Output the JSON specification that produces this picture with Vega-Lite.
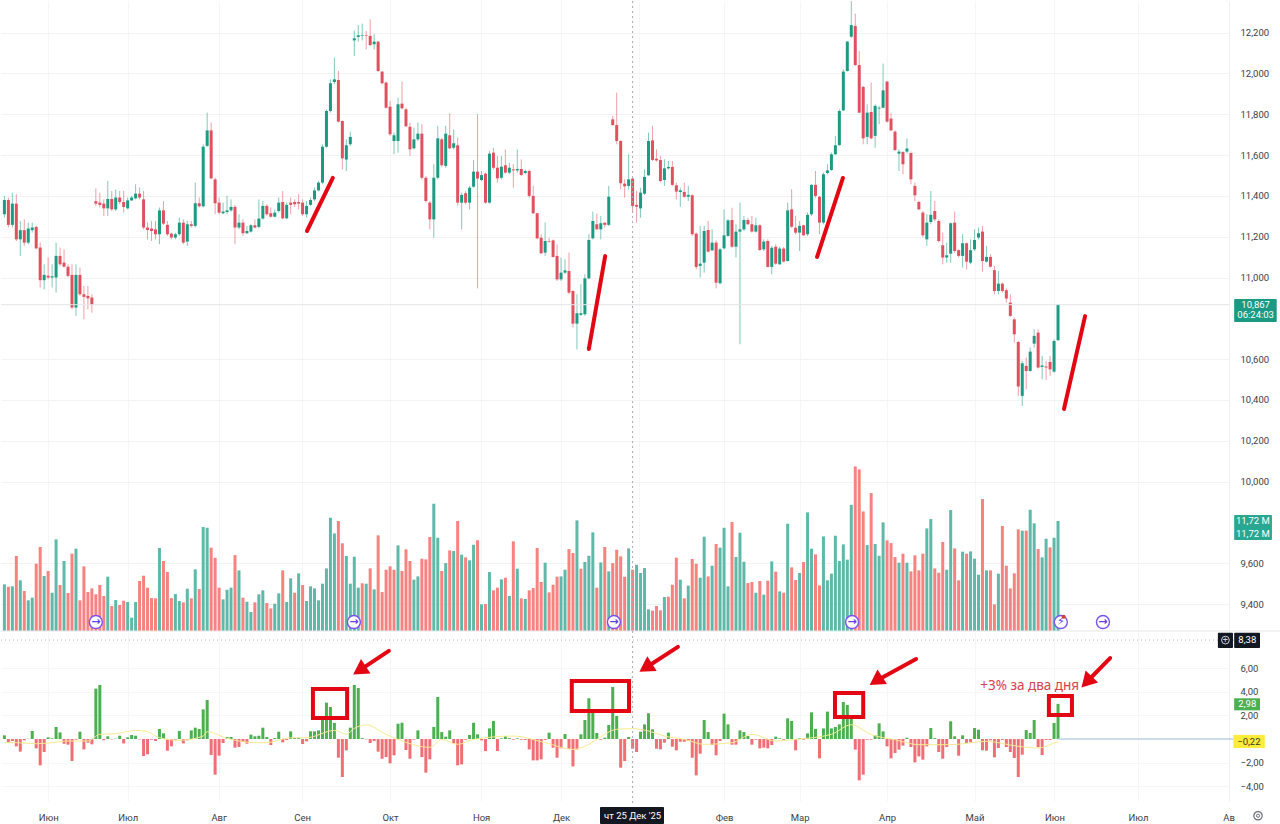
{
  "$schema": "https://vega.github.io/schema/vega-lite/v6.json",
  "background": "#ffffff",
  "padding": 0,
  "autosize": {"type": "pad"},
  "bounds": "flush",
  "spacing": 0,
  "config": {
    "view": {"stroke": null},
    "font": "Roboto"
  },
  "datasets": {
    "bars": [
      {"i":0,"o":11310,"h":11400,"l":11294,"c":11380,"v":4.97,"up":1,"d":0.31},
      {"i":1,"o":11380,"h":11392,"l":11245,"c":11258,"v":4.72,"up":0,"d":-0.31},
      {"i":2,"o":11258,"h":11416,"l":11245,"c":11362,"v":4.76,"up":1,"d":-0.17},
      {"i":3,"o":11362,"h":11408,"l":11179,"c":11187,"v":7.99,"up":0,"d":-0.62},
      {"i":4,"o":11187,"h":11277,"l":11106,"c":11232,"v":5.40,"up":1,"d":-1.07},
      {"i":5,"o":11232,"h":11285,"l":11155,"c":11171,"v":4.26,"up":0,"d":-0.11},
      {"i":6,"o":11171,"h":11269,"l":11163,"c":11240,"v":3.27,"up":1,"d":0.02},
      {"i":7,"o":11232,"h":11269,"l":11220,"c":11245,"v":3.55,"up":1,"d":0.68},
      {"i":8,"o":11248,"h":11253,"l":11138,"c":11143,"v":7.17,"up":0,"d":-0.79},
      {"i":9,"o":11147,"h":11171,"l":10951,"c":10987,"v":8.95,"up":0,"d":-2.23},
      {"i":10,"o":10987,"h":11065,"l":10942,"c":11013,"v":5.86,"up":1,"d":-1.10},
      {"i":11,"o":11009,"h":11098,"l":10991,"c":11000,"v":6.39,"up":0,"d":0.14},
      {"i":12,"o":11000,"h":11065,"l":10951,"c":11006,"v":4.08,"up":1,"d":0.06},
      {"i":13,"o":11000,"h":11171,"l":10926,"c":11106,"v":9.76,"up":1,"d":1.02},
      {"i":14,"o":11106,"h":11147,"l":11057,"c":11065,"v":4.90,"up":0,"d":0.56},
      {"i":15,"o":11073,"h":11138,"l":11049,"c":11053,"v":7.46,"up":1,"d":-0.40},
      {"i":16,"o":11053,"h":11065,"l":11000,"c":11008,"v":4.05,"up":0,"d":-0.48},
      {"i":17,"o":11013,"h":11065,"l":10844,"c":10853,"v":8.24,"up":0,"d":-1.86},
      {"i":18,"o":10853,"h":11065,"l":10812,"c":11013,"v":8.77,"up":1,"d":-0.06},
      {"i":19,"o":11013,"h":11049,"l":10910,"c":10918,"v":3.27,"up":0,"d":0.62},
      {"i":20,"o":10918,"h":10959,"l":10795,"c":10905,"v":6.89,"up":0,"d":-0.88},
      {"i":21,"o":10910,"h":10959,"l":10844,"c":10898,"v":4.15,"up":0,"d":-0.31},
      {"i":22,"o":10902,"h":10918,"l":10828,"c":10866,"v":4.54,"up":0,"d":-0.45},
      {"i":23,"o":11374,"h":11437,"l":11351,"c":11362,"v":3.91,"up":0,"d":4.27},
      {"i":24,"o":11367,"h":11416,"l":11343,"c":11356,"v":4.90,"up":0,"d":4.58},
      {"i":25,"o":11362,"h":11383,"l":11302,"c":11339,"v":3.73,"up":0,"d":-0.11},
      {"i":26,"o":11339,"h":11473,"l":11302,"c":11385,"v":5.79,"up":1,"d":0.23},
      {"i":27,"o":11385,"h":11424,"l":11326,"c":11334,"v":2.66,"up":0,"d":-0.03},
      {"i":28,"o":11334,"h":11432,"l":11326,"c":11392,"v":3.30,"up":1,"d":0.03},
      {"i":29,"o":11392,"h":11424,"l":11359,"c":11370,"v":2.77,"up":0,"d":0.28},
      {"i":30,"o":11370,"h":11424,"l":11318,"c":11346,"v":3.23,"up":0,"d":-0.37},
      {"i":31,"o":11339,"h":11392,"l":11334,"c":11378,"v":3.09,"up":1,"d":0.14},
      {"i":32,"o":11378,"h":11400,"l":11375,"c":11392,"v":1.42,"up":1,"d":0.34},
      {"i":33,"o":11388,"h":11457,"l":11383,"c":11411,"v":3.09,"up":1,"d":0.28},
      {"i":34,"o":11411,"h":11441,"l":11383,"c":11392,"v":5.33,"up":0,"d":-0.03},
      {"i":35,"o":11383,"h":11424,"l":11236,"c":11245,"v":5.89,"up":0,"d":-1.44},
      {"i":36,"o":11245,"h":11269,"l":11187,"c":11233,"v":4.62,"up":0,"d":-1.30},
      {"i":37,"o":11240,"h":11277,"l":11179,"c":11228,"v":3.51,"up":0,"d":-0.06},
      {"i":38,"o":11236,"h":11277,"l":11187,"c":11212,"v":3.48,"up":0,"d":-0.17},
      {"i":39,"o":11212,"h":11343,"l":11163,"c":11329,"v":8.84,"up":1,"d":0.85},
      {"i":40,"o":11329,"h":11375,"l":11258,"c":11264,"v":7.46,"up":0,"d":0.48},
      {"i":41,"o":11258,"h":11277,"l":11204,"c":11212,"v":6.28,"up":0,"d":-0.99},
      {"i":42,"o":11215,"h":11220,"l":11187,"c":11196,"v":3.51,"up":0,"d":-0.62},
      {"i":43,"o":11196,"h":11220,"l":11187,"c":11212,"v":3.94,"up":1,"d":-0.06},
      {"i":44,"o":11212,"h":11294,"l":11204,"c":11269,"v":3.20,"up":1,"d":0.68},
      {"i":45,"o":11269,"h":11285,"l":11163,"c":11171,"v":3.05,"up":0,"d":-0.37},
      {"i":46,"o":11176,"h":11277,"l":11155,"c":11261,"v":4.51,"up":1,"d":-0.11},
      {"i":47,"o":11261,"h":11277,"l":11245,"c":11253,"v":3.48,"up":0,"d":0.73},
      {"i":48,"o":11253,"h":11465,"l":11245,"c":11364,"v":6.57,"up":1,"d":0.96},
      {"i":49,"o":11364,"h":11392,"l":11343,"c":11349,"v":4.47,"up":0,"d":0.85},
      {"i":50,"o":11349,"h":11653,"l":11343,"c":11641,"v":11.08,"up":1,"d":2.51},
      {"i":51,"o":11645,"h":11808,"l":11640,"c":11721,"v":11.00,"up":1,"d":3.31},
      {"i":52,"o":11721,"h":11759,"l":11481,"c":11486,"v":8.88,"up":0,"d":-1.36},
      {"i":53,"o":11481,"h":11490,"l":11310,"c":11364,"v":7.81,"up":0,"d":-3.02},
      {"i":54,"o":11367,"h":11392,"l":11310,"c":11318,"v":4.62,"up":0,"d":-1.41},
      {"i":55,"o":11315,"h":11367,"l":11310,"c":11323,"v":3.37,"up":1,"d":-0.34},
      {"i":56,"o":11321,"h":11400,"l":11310,"c":11329,"v":4.40,"up":1,"d":0.17},
      {"i":57,"o":11329,"h":11383,"l":11323,"c":11346,"v":4.62,"up":1,"d":0.17},
      {"i":58,"o":11346,"h":11356,"l":11163,"c":11245,"v":8.09,"up":0,"d":-0.73},
      {"i":59,"o":11245,"h":11310,"l":11236,"c":11269,"v":6.46,"up":1,"d":-0.68},
      {"i":60,"o":11269,"h":11285,"l":11204,"c":11217,"v":3.55,"up":0,"d":-0.25},
      {"i":61,"o":11217,"h":11253,"l":11212,"c":11228,"v":3.12,"up":1,"d":-0.40},
      {"i":62,"o":11225,"h":11261,"l":11220,"c":11256,"v":2.02,"up":1,"d":0.37},
      {"i":63,"o":11256,"h":11285,"l":11241,"c":11245,"v":3.05,"up":0,"d":0.23},
      {"i":64,"o":11248,"h":11383,"l":11241,"c":11289,"v":3.91,"up":1,"d":0.28},
      {"i":65,"o":11289,"h":11375,"l":11284,"c":11351,"v":4.33,"up":1,"d":0.96},
      {"i":66,"o":11351,"h":11359,"l":11302,"c":11310,"v":2.98,"up":0,"d":0.17},
      {"i":67,"o":11315,"h":11343,"l":11294,"c":11298,"v":2.41,"up":0,"d":-0.51},
      {"i":68,"o":11298,"h":11334,"l":11294,"c":11318,"v":2.91,"up":1,"d":0.08},
      {"i":69,"o":11326,"h":11392,"l":11318,"c":11367,"v":4.01,"up":1,"d":0.62},
      {"i":70,"o":11370,"h":11424,"l":11285,"c":11290,"v":6.46,"up":0,"d":-0.28},
      {"i":71,"o":11290,"h":11367,"l":11285,"c":11356,"v":3.09,"up":1,"d":-0.08},
      {"i":72,"o":11367,"h":11392,"l":11310,"c":11356,"v":5.61,"up":1,"d":0.65},
      {"i":73,"o":11370,"h":11383,"l":11346,"c":11359,"v":4.08,"up":0,"d":0.08},
      {"i":74,"o":11370,"h":11408,"l":11334,"c":11362,"v":6.14,"up":1,"d":0.08},
      {"i":75,"o":11367,"h":11383,"l":11302,"c":11310,"v":4.90,"up":0,"d":-0.42},
      {"i":76,"o":11310,"h":11375,"l":11294,"c":11351,"v":3.20,"up":1,"d":-0.20},
      {"i":77,"o":11356,"h":11392,"l":11351,"c":11380,"v":4.76,"up":1,"d":0.65},
      {"i":78,"o":11383,"h":11441,"l":11375,"c":11427,"v":4.54,"up":1,"d":0.65},
      {"i":79,"o":11427,"h":11473,"l":11424,"c":11465,"v":3.27,"up":1,"d":0.73},
      {"i":80,"o":11465,"h":11653,"l":11457,"c":11641,"v":5.04,"up":1,"d":1.72},
      {"i":81,"o":11641,"h":11824,"l":11636,"c":11816,"v":6.67,"up":1,"d":3.08},
      {"i":82,"o":11816,"h":11971,"l":11808,"c":11952,"v":12.07,"up":1,"d":2.71},
      {"i":83,"o":11958,"h":12077,"l":11947,"c":11971,"v":10.40,"up":1,"d":1.36},
      {"i":84,"o":11968,"h":12012,"l":11759,"c":11764,"v":11.72,"up":0,"d":-1.58},
      {"i":85,"o":11767,"h":11770,"l":11530,"c":11584,"v":9.34,"up":0,"d":-3.22},
      {"i":86,"o":11578,"h":11677,"l":11522,"c":11648,"v":7.99,"up":1,"d":-0.96},
      {"i":87,"o":11653,"h":11715,"l":11645,"c":11689,"v":5.04,"up":1,"d":0.96},
      {"i":88,"o":12162,"h":12211,"l":12086,"c":12172,"v":7.92,"up":1,"d":4.58},
      {"i":89,"o":12179,"h":12237,"l":12156,"c":12187,"v":4.62,"up":1,"d":4.32},
      {"i":90,"o":12184,"h":12244,"l":12162,"c":12187,"v":5.08,"up":0,"d":0.08},
      {"i":91,"o":12187,"h":12208,"l":12118,"c":12184,"v":5.04,"up":1,"d":-0.03},
      {"i":92,"o":12184,"h":12265,"l":12135,"c":12139,"v":6.67,"up":0,"d":-0.34},
      {"i":93,"o":12143,"h":12192,"l":12118,"c":12156,"v":4.44,"up":1,"d":-0.17},
      {"i":94,"o":12156,"h":12159,"l":12007,"c":12012,"v":10.19,"up":0,"d":-1.07},
      {"i":95,"o":12009,"h":12012,"l":11947,"c":11952,"v":4.15,"up":0,"d":-1.67},
      {"i":96,"o":11955,"h":11960,"l":11828,"c":11832,"v":6.53,"up":0,"d":-1.53},
      {"i":97,"o":11837,"h":11865,"l":11694,"c":11702,"v":6.89,"up":0,"d":-2.06},
      {"i":98,"o":11669,"h":11710,"l":11604,"c":11697,"v":6.53,"up":0,"d":-1.38},
      {"i":99,"o":11669,"h":11881,"l":11612,"c":11849,"v":9.12,"up":1,"d":1.30},
      {"i":100,"o":11852,"h":11960,"l":11824,"c":11829,"v":6.39,"up":0,"d":1.38},
      {"i":101,"o":11824,"h":11832,"l":11738,"c":11741,"v":8.70,"up":0,"d":-0.93},
      {"i":102,"o":11739,"h":11759,"l":11596,"c":11628,"v":7.46,"up":0,"d":-1.67},
      {"i":103,"o":11633,"h":11734,"l":11628,"c":11677,"v":5.47,"up":1,"d":-0.06},
      {"i":104,"o":11677,"h":11759,"l":11669,"c":11705,"v":5.82,"up":1,"d":0.73},
      {"i":105,"o":11705,"h":11751,"l":11481,"c":11489,"v":7.70,"up":0,"d":-1.53},
      {"i":106,"o":11489,"h":11498,"l":11367,"c":11375,"v":7.63,"up":0,"d":-2.85},
      {"i":107,"o":11367,"h":11375,"l":11236,"c":11285,"v":10.01,"up":0,"d":-1.72},
      {"i":108,"o":11285,"h":11555,"l":11195,"c":11489,"v":13.56,"up":1,"d":1.02},
      {"i":109,"o":11489,"h":11743,"l":11481,"c":11682,"v":9.94,"up":1,"d":3.56},
      {"i":110,"o":11677,"h":11685,"l":11542,"c":11550,"v":6.39,"up":0,"d":0.59},
      {"i":111,"o":11547,"h":11743,"l":11538,"c":11705,"v":7.24,"up":1,"d":0.20},
      {"i":112,"o":11697,"h":11805,"l":11628,"c":11633,"v":8.59,"up":0,"d":0.73},
      {"i":113,"o":11636,"h":11726,"l":11628,"c":11658,"v":8.52,"up":1,"d":-0.37},
      {"i":114,"o":11648,"h":11685,"l":11351,"c":11367,"v":11.72,"up":0,"d":-2.23},
      {"i":115,"o":11367,"h":11416,"l":11236,"c":11405,"v":8.13,"up":1,"d":-2.15},
      {"i":116,"o":11413,"h":11424,"l":11359,"c":11367,"v":7.85,"up":0,"d":-0.06},
      {"i":117,"o":11367,"h":11449,"l":11334,"c":11440,"v":7.53,"up":1,"d":0.34},
      {"i":118,"o":11445,"h":11576,"l":11440,"c":11519,"v":9.19,"up":1,"d":1.38},
      {"i":119,"o":11519,"h":11800,"l":10947,"c":11485,"v":9.66,"up":0,"d":0.40},
      {"i":120,"o":11478,"h":11522,"l":11473,"c":11502,"v":2.84,"up":1,"d":-0.11},
      {"i":121,"o":11509,"h":11514,"l":11362,"c":11367,"v":2.88,"up":0,"d":-1.02},
      {"i":122,"o":11367,"h":11620,"l":11362,"c":11607,"v":6.28,"up":1,"d":0.90},
      {"i":123,"o":11612,"h":11636,"l":11530,"c":11538,"v":4.33,"up":0,"d":1.53},
      {"i":124,"o":11538,"h":11596,"l":11465,"c":11486,"v":4.62,"up":0,"d":-1.02},
      {"i":125,"o":11489,"h":11596,"l":11481,"c":11543,"v":5.50,"up":1,"d":0.06},
      {"i":126,"o":11550,"h":11628,"l":11509,"c":11514,"v":5.68,"up":0,"d":0.25},
      {"i":127,"o":11514,"h":11563,"l":11506,"c":11538,"v":3.73,"up":1,"d":0.08},
      {"i":128,"o":11530,"h":11555,"l":11440,"c":11525,"v":9.55,"up":0,"d":-0.06},
      {"i":129,"o":11525,"h":11628,"l":11514,"c":11532,"v":6.64,"up":1,"d":0.06},
      {"i":130,"o":11532,"h":11579,"l":11498,"c":11502,"v":3.48,"up":0,"d":-0.06},
      {"i":131,"o":11512,"h":11530,"l":11506,"c":11522,"v":3.41,"up":1,"d":-0.08},
      {"i":132,"o":11522,"h":11530,"l":11391,"c":11400,"v":4.33,"up":0,"d":-0.88},
      {"i":133,"o":11400,"h":11449,"l":11310,"c":11315,"v":4.58,"up":0,"d":-1.81},
      {"i":134,"o":11315,"h":11318,"l":11187,"c":11192,"v":8.84,"up":0,"d":-1.81},
      {"i":135,"o":11195,"h":11212,"l":11114,"c":11119,"v":5.22,"up":0,"d":-1.72},
      {"i":136,"o":11122,"h":11269,"l":11106,"c":11179,"v":7.28,"up":1,"d":-0.08},
      {"i":137,"o":11179,"h":11195,"l":11171,"c":11176,"v":4.12,"up":0,"d":0.54},
      {"i":138,"o":11182,"h":11187,"l":11098,"c":11101,"v":4.93,"up":0,"d":-0.73},
      {"i":139,"o":11106,"h":11163,"l":10983,"c":10991,"v":5.79,"up":0,"d":-1.58},
      {"i":140,"o":10991,"h":11098,"l":10983,"c":11024,"v":5.82,"up":1,"d":-0.79},
      {"i":141,"o":11024,"h":11089,"l":11016,"c":11035,"v":6.53,"up":1,"d":0.42},
      {"i":142,"o":11032,"h":11122,"l":10918,"c":10926,"v":8.73,"up":0,"d":-0.82},
      {"i":143,"o":10934,"h":10937,"l":10755,"c":10774,"v":8.31,"up":0,"d":-2.32},
      {"i":144,"o":10774,"h":10918,"l":10648,"c":10825,"v":11.79,"up":1,"d":-0.88},
      {"i":145,"o":10817,"h":10967,"l":10812,"c":10825,"v":6.64,"up":0,"d":0.40},
      {"i":146,"o":10820,"h":11016,"l":10812,"c":10996,"v":7.35,"up":1,"d":1.61},
      {"i":147,"o":10996,"h":11212,"l":10991,"c":11184,"v":8.02,"up":1,"d":3.45},
      {"i":148,"o":11192,"h":11323,"l":11187,"c":11277,"v":10.51,"up":1,"d":2.37},
      {"i":149,"o":11261,"h":11313,"l":11236,"c":11236,"v":4.62,"up":0,"d":0.51},
      {"i":150,"o":11236,"h":11302,"l":11187,"c":11266,"v":7.31,"up":1,"d":-0.06},
      {"i":151,"o":11269,"h":11269,"l":11244,"c":11258,"v":8.95,"up":0,"d":0.11},
      {"i":152,"o":11258,"h":11449,"l":11253,"c":11396,"v":6.35,"up":1,"d":1.19},
      {"i":153,"o":11775,"h":11792,"l":11743,"c":11747,"v":7.24,"up":0,"d":4.41},
      {"i":154,"o":11747,"h":11906,"l":11653,"c":11669,"v":8.66,"up":0,"d":1.95},
      {"i":155,"o":11669,"h":11672,"l":11432,"c":11462,"v":7.95,"up":0,"d":-2.43},
      {"i":156,"o":11460,"h":11481,"l":11391,"c":11447,"v":5.79,"up":0,"d":-1.86},
      {"i":157,"o":11449,"h":11604,"l":11432,"c":11481,"v":8.80,"up":1,"d":0.17},
      {"i":158,"o":11485,"h":11489,"l":11318,"c":11351,"v":6.53,"up":0,"d":-0.82},
      {"i":159,"o":11356,"h":11424,"l":11269,"c":11347,"v":7.06,"up":1,"d":-1.10},
      {"i":160,"o":11339,"h":11440,"l":11293,"c":11416,"v":6.18,"up":1,"d":0.62},
      {"i":161,"o":11411,"h":11530,"l":11405,"c":11493,"v":6.71,"up":1,"d":1.24},
      {"i":162,"o":11501,"h":11710,"l":11498,"c":11669,"v":2.31,"up":1,"d":2.18},
      {"i":163,"o":11672,"h":11743,"l":11571,"c":11576,"v":2.17,"up":0,"d":0.82},
      {"i":164,"o":11582,"h":11628,"l":11568,"c":11574,"v":2.66,"up":0,"d":-0.82},
      {"i":165,"o":11576,"h":11596,"l":11465,"c":11473,"v":2.20,"up":0,"d":-0.88},
      {"i":166,"o":11478,"h":11579,"l":11449,"c":11535,"v":3.62,"up":1,"d":-0.31},
      {"i":167,"o":11535,"h":11571,"l":11530,"c":11542,"v":3.66,"up":0,"d":0.54},
      {"i":168,"o":11542,"h":11571,"l":11449,"c":11454,"v":4.93,"up":0,"d":-0.65},
      {"i":169,"o":11452,"h":11465,"l":11383,"c":11421,"v":7.81,"up":0,"d":-0.96},
      {"i":170,"o":11419,"h":11440,"l":11346,"c":11427,"v":5.47,"up":1,"d":-0.23},
      {"i":171,"o":11419,"h":11465,"l":11391,"c":11396,"v":3.48,"up":0,"d":-0.23},
      {"i":172,"o":11396,"h":11449,"l":11375,"c":11405,"v":4.83,"up":1,"d":-0.17},
      {"i":173,"o":11403,"h":11408,"l":11204,"c":11212,"v":7.67,"up":0,"d":-1.58},
      {"i":174,"o":11215,"h":11220,"l":11040,"c":11052,"v":7.17,"up":0,"d":-3.08},
      {"i":175,"o":11057,"h":11253,"l":11000,"c":11068,"v":5.68,"up":1,"d":-1.24},
      {"i":176,"o":11073,"h":11253,"l":11024,"c":11228,"v":10.05,"up":1,"d":1.61},
      {"i":177,"o":11233,"h":11277,"l":11122,"c":11127,"v":5.82,"up":0,"d":0.59},
      {"i":178,"o":11133,"h":11236,"l":11130,"c":11171,"v":6.96,"up":1,"d":-0.51},
      {"i":179,"o":11171,"h":11182,"l":10947,"c":10975,"v":9.27,"up":0,"d":-1.38},
      {"i":180,"o":10972,"h":11146,"l":10967,"c":11138,"v":8.88,"up":1,"d":-0.17},
      {"i":181,"o":11143,"h":11334,"l":11138,"c":11207,"v":11.00,"up":1,"d":2.15},
      {"i":182,"o":11204,"h":11285,"l":11199,"c":11280,"v":4.76,"up":1,"d":1.24},
      {"i":183,"o":11282,"h":11342,"l":11146,"c":11151,"v":11.61,"up":0,"d":-0.48},
      {"i":184,"o":11151,"h":11261,"l":11098,"c":11225,"v":7.88,"up":1,"d":-0.48},
      {"i":185,"o":11225,"h":11367,"l":10673,"c":11236,"v":10.47,"up":1,"d":0.73},
      {"i":186,"o":11236,"h":11302,"l":11228,"c":11282,"v":7.38,"up":1,"d":0.59},
      {"i":187,"o":11282,"h":11293,"l":11258,"c":11261,"v":5.11,"up":0,"d":0.25},
      {"i":188,"o":11261,"h":11302,"l":11220,"c":11225,"v":5.22,"up":0,"d":-0.48},
      {"i":189,"o":11225,"h":11293,"l":11220,"c":11256,"v":4.08,"up":1,"d":-0.06},
      {"i":190,"o":11256,"h":11261,"l":11130,"c":11135,"v":5.33,"up":0,"d":-0.79},
      {"i":191,"o":11138,"h":11187,"l":11130,"c":11176,"v":3.87,"up":1,"d":-0.73},
      {"i":192,"o":11179,"h":11187,"l":11049,"c":11052,"v":5.36,"up":0,"d":-0.79},
      {"i":193,"o":11052,"h":11155,"l":11016,"c":11146,"v":7.42,"up":1,"d":-0.51},
      {"i":194,"o":11151,"h":11163,"l":11062,"c":11068,"v":6.32,"up":0,"d":0.20},
      {"i":195,"o":11065,"h":11151,"l":11062,"c":11142,"v":4.22,"up":1,"d":0.06},
      {"i":196,"o":11142,"h":11150,"l":11073,"c":11078,"v":4.08,"up":0,"d":-0.06},
      {"i":197,"o":11081,"h":11367,"l":11078,"c":11329,"v":11.43,"up":1,"d":1.75},
      {"i":198,"o":11334,"h":11432,"l":11244,"c":11249,"v":6.78,"up":0,"d":1.53},
      {"i":199,"o":11244,"h":11302,"l":11212,"c":11220,"v":5.43,"up":0,"d":-0.96},
      {"i":200,"o":11220,"h":11277,"l":11130,"c":11253,"v":6.18,"up":1,"d":0.08},
      {"i":201,"o":11256,"h":11258,"l":11204,"c":11207,"v":7.35,"up":0,"d":-0.06},
      {"i":202,"o":11212,"h":11318,"l":11204,"c":11307,"v":12.64,"up":1,"d":0.48},
      {"i":203,"o":11310,"h":11457,"l":11302,"c":11454,"v":8.77,"up":1,"d":2.26},
      {"i":204,"o":11454,"h":11522,"l":11391,"c":11400,"v":8.17,"up":0,"d":0.85},
      {"i":205,"o":11396,"h":11400,"l":11212,"c":11269,"v":4.86,"up":0,"d":-1.64},
      {"i":206,"o":11269,"h":11514,"l":11261,"c":11506,"v":10.08,"up":1,"d":0.90},
      {"i":207,"o":11512,"h":11555,"l":11506,"c":11525,"v":5.40,"up":1,"d":2.32},
      {"i":208,"o":11527,"h":11612,"l":11522,"c":11604,"v":6.11,"up":1,"d":0.90},
      {"i":209,"o":11604,"h":11694,"l":11600,"c":11648,"v":10.15,"up":1,"d":1.02},
      {"i":210,"o":11649,"h":11824,"l":11645,"c":11816,"v":7.46,"up":1,"d":1.24},
      {"i":211,"o":11819,"h":12020,"l":11816,"c":12009,"v":9.23,"up":1,"d":3.14},
      {"i":212,"o":12012,"h":12159,"l":12009,"c":12156,"v":7.60,"up":1,"d":2.88},
      {"i":213,"o":12180,"h":12355,"l":12175,"c":12237,"v":13.45,"up":1,"d":1.81},
      {"i":214,"o":12233,"h":12293,"l":12037,"c":12041,"v":17.54,"up":0,"d":-0.90},
      {"i":215,"o":12041,"h":12110,"l":11805,"c":11808,"v":17.22,"up":0,"d":-3.50},
      {"i":216,"o":11934,"h":11939,"l":11653,"c":11682,"v":12.74,"up":0,"d":-3.02},
      {"i":217,"o":11689,"h":11849,"l":11653,"c":11808,"v":9.16,"up":1,"d":-0.06},
      {"i":218,"o":11811,"h":11955,"l":11677,"c":11682,"v":14.70,"up":0,"d":-0.06},
      {"i":219,"o":11694,"h":11849,"l":11636,"c":11841,"v":9.27,"up":1,"d":0.31},
      {"i":220,"o":11828,"h":11841,"l":11751,"c":11832,"v":8.02,"up":1,"d":1.33},
      {"i":221,"o":11832,"h":12048,"l":11829,"c":11917,"v":11.57,"up":1,"d":0.65},
      {"i":222,"o":11960,"h":11963,"l":11759,"c":11764,"v":9.66,"up":0,"d":-0.62},
      {"i":223,"o":11779,"h":11808,"l":11718,"c":11721,"v":9.37,"up":0,"d":-1.64},
      {"i":224,"o":11715,"h":11721,"l":11620,"c":11625,"v":7.88,"up":0,"d":-1.19},
      {"i":225,"o":11607,"h":11628,"l":11522,"c":11617,"v":7.28,"up":1,"d":-0.90},
      {"i":226,"o":11615,"h":11620,"l":11506,"c":11555,"v":8.24,"up":0,"d":-0.56},
      {"i":227,"o":11617,"h":11682,"l":11607,"c":11632,"v":7.28,"up":1,"d":0.11},
      {"i":228,"o":11610,"h":11617,"l":11457,"c":11481,"v":6.35,"up":0,"d":-0.68},
      {"i":229,"o":11449,"h":11465,"l":11375,"c":11403,"v":8.06,"up":0,"d":-1.98},
      {"i":230,"o":11370,"h":11375,"l":11331,"c":11334,"v":6.46,"up":0,"d":-1.47},
      {"i":231,"o":11318,"h":11326,"l":11196,"c":11207,"v":8.24,"up":0,"d":-1.75},
      {"i":232,"o":11187,"h":11310,"l":11155,"c":11269,"v":10.93,"up":1,"d":-0.62},
      {"i":233,"o":11272,"h":11424,"l":11261,"c":11307,"v":11.93,"up":1,"d":0.93},
      {"i":234,"o":11326,"h":11375,"l":11277,"c":11285,"v":6.67,"up":0,"d":0.08},
      {"i":235,"o":11277,"h":11285,"l":11171,"c":11179,"v":6.21,"up":0,"d":-1.10},
      {"i":236,"o":11158,"h":11220,"l":11065,"c":11098,"v":9.48,"up":0,"d":-1.67},
      {"i":237,"o":11098,"h":11171,"l":11073,"c":11109,"v":6.53,"up":1,"d":-0.68},
      {"i":238,"o":11117,"h":11269,"l":11073,"c":11266,"v":12.89,"up":1,"d":1.50},
      {"i":239,"o":11269,"h":11323,"l":11122,"c":11130,"v":8.80,"up":0,"d":0.23},
      {"i":240,"o":11134,"h":11138,"l":11098,"c":11106,"v":5.40,"up":0,"d":-1.41},
      {"i":241,"o":11106,"h":11212,"l":11049,"c":11168,"v":8.45,"up":1,"d":0.31},
      {"i":242,"o":11168,"h":11171,"l":11040,"c":11078,"v":8.24,"up":0,"d":-0.34},
      {"i":243,"o":11073,"h":11187,"l":11065,"c":11134,"v":8.48,"up":1,"d":-0.28},
      {"i":244,"o":11138,"h":11236,"l":11130,"c":11184,"v":7.70,"up":1,"d":0.93},
      {"i":245,"o":11196,"h":11245,"l":11187,"c":11217,"v":6.00,"up":1,"d":0.79},
      {"i":246,"o":11225,"h":11253,"l":11029,"c":11081,"v":14.06,"up":0,"d":-0.96},
      {"i":247,"o":11078,"h":11155,"l":11073,"c":11101,"v":6.46,"up":1,"d":-0.99},
      {"i":248,"o":11101,"h":11114,"l":11049,"c":11053,"v":6.46,"up":0,"d":-0.11},
      {"i":249,"o":11036,"h":11057,"l":10918,"c":10934,"v":2.84,"up":0,"d":-1.55},
      {"i":250,"o":10934,"h":11032,"l":10918,"c":10970,"v":6.11,"up":1,"d":-0.76},
      {"i":251,"o":10970,"h":10975,"l":10926,"c":10934,"v":11.18,"up":0,"d":-0.08},
      {"i":252,"o":10938,"h":10947,"l":10877,"c":10897,"v":6.96,"up":0,"d":-0.68},
      {"i":253,"o":10877,"h":10918,"l":10807,"c":10812,"v":4.54,"up":0,"d":-1.10},
      {"i":254,"o":10795,"h":10804,"l":10681,"c":10722,"v":6.14,"up":0,"d":-1.61},
      {"i":255,"o":10684,"h":10689,"l":10420,"c":10466,"v":10.83,"up":0,"d":-3.22},
      {"i":256,"o":10420,"h":10591,"l":10371,"c":10580,"v":10.69,"up":1,"d":-1.33},
      {"i":257,"o":10567,"h":10608,"l":10453,"c":10542,"v":10.69,"up":0,"d":0.76},
      {"i":258,"o":10542,"h":10657,"l":10539,"c":10637,"v":12.92,"up":1,"d":0.51},
      {"i":259,"o":10676,"h":10746,"l":10657,"c":10714,"v":11.47,"up":1,"d":1.61},
      {"i":260,"o":10730,"h":10746,"l":10554,"c":10559,"v":8.73,"up":0,"d":-0.68},
      {"i":261,"o":10562,"h":10616,"l":10502,"c":10569,"v":7.85,"up":1,"d":-1.36},
      {"i":262,"o":10564,"h":10591,"l":10497,"c":10559,"v":9.83,"up":1,"d":-0.08},
      {"i":263,"o":10586,"h":10616,"l":10518,"c":10550,"v":8.91,"up":0,"d":-0.08},
      {"i":264,"o":10539,"h":10697,"l":10534,"c":10689,"v":9.94,"up":1,"d":1.36},
      {"i":265,"o":10693,"h":10870,"l":10690,"c":10867,"v":11.72,"up":1,"d":2.98}
    ],
    "ma": [
      {"i":0,"m":-0.31},{"i":3,"m":-0.31},{"i":8,"m":-0.4},{"i":12,"m":-0.31},{"i":16,"m":-0.17},{"i":21,"m":-0.17},{"i":24,"m":0.4},{"i":28,"m":0.45},{"i":33,"m":0.73},{"i":36,"m":0.62},{"i":39,"m":0.11},{"i":44,"m":-0.11},{"i":50,"m":0.25},{"i":51,"m":0.62},{"i":56,"m":0.06},{"i":63,"m":-0.31},{"i":66,"m":-0.31},{"i":72,"m":0.11},{"i":76,"m":0.11},{"i":83,"m":0.73},{"i":86,"m":0.4},{"i":88,"m":0.9},{"i":91,"m":1.19},{"i":96,"m":0.4},{"i":100,"m":-0.17},{"i":107,"m":-0.7},{"i":110,"m":-0.03},{"i":114,"m":-0.45},{"i":118,"m":-0.03},{"i":128,"m":0.25},{"i":136,"m":-0.31},{"i":143,"m":-0.88},{"i":147,"m":-0.45},{"i":149,"m":-0.03},{"i":154,"m":0.82},{"i":158,"m":0.88},{"i":162,"m":0.68},{"i":166,"m":0.25},{"i":171,"m":-0.03},{"i":176,"m":-0.45},{"i":183,"m":-0.31},{"i":188,"m":0.4},{"i":194,"m":-0.17},{"i":199,"m":-0.03},{"i":208,"m":0.4},{"i":213,"m":1.21},{"i":218,"m":0.37},{"i":224,"m":-0.06},{"i":230,"m":-0.48},{"i":238,"m":-0.48},{"i":247,"m":-0.2},{"i":255,"m":-0.62},{"i":260,"m":-0.76},{"i":264,"m":-0.34},{"i":265,"m":-0.22}
    ],
    "strokes": [
      {"i":76.1,"i2":82.6,"p":11228,"p2":11488},
      {"i":147.0,"i2":151.1,"p":10650,"p2":11105},
      {"i":204.4,"i2":210.9,"p":11101,"p2":11488},
      {"i":266.5,"i2":271.8,"p":10356,"p2":10811}
    ],
    "events": [
      {"i":23.0,"p":9312,"s":"→"},
      {"i":87.9,"p":9312,"s":"→"},
      {"i":153.3,"p":9312,"s":"→"},
      {"i":213.2,"p":9312,"s":"→"},
      {"i":265.7,"p":9312,"s":"⚡"},
      {"i":276.3,"p":9312,"s":"→"}
    ],
    "frames": [
      {"i":77.6,"i2":86.2,"d":4.24,"d2":1.78},
      {"i":142.7,"i2":157.1,"d":4.92,"d2":2.37},
      {"i":208.9,"i2":216,"d":3.9,"d2":1.86},
      {"i":262.7,"i2":268.5,"d":3.64,"d2":2.03}
    ],
    "arrows": [
      {"i":89.3,"d":5.81,"i2":96.7,"d2":7.46},
      {"i":161.3,"d":6.04,"i2":169.4,"d2":7.8},
      {"i":219.2,"d":4.92,"i2":229.3,"d2":6.78},
      {"i":272.2,"d":4.83,"i2":278.1,"d2":6.86}
    ]
  },
  "vconcat": [
    {
      "width": 1228,
      "height": 630,
      "encoding": {
        "x": {"field": "i", "type": "quantitative", "title": null, "scale": {"domain": [-0.855, 308]}}
      },
      "layer": [
        {
          "data": {"name": "bars"},
          "mark": {"type": "rule", "strokeWidth": 3, "clip": true},
          "encoding": {
            "x": {"field": "i", "type": "quantitative", "title": null, "scale": {"domain": [-0.855, 308]}, "axis": {"values": [11,31,53.9,74.9,97,119.9,140,159.6,181,200,222,244,264.1,285.1,307.9], "labels": false, "ticks": false, "domain": false, "grid": true, "gridColor": "#f6f6f7"}},
            "y": {"field": "v", "type": "quantitative", "scale": {"domain": [0, 67.13]}, "axis": null},
            "y2": {"datum": 0},
            "color": {"condition": {"test": "datum.up==1", "value": "#5fb9a9"}, "value": "#f6837f"}
          }
        },
        {
          "encoding": {
            "y": {"field": "p", "type": "quantitative", "title": null, "scale": {"domain": [9268, 12355]}}
          },
          "layer": [
            {
              "data": {"name": "bars"},
              "mark": {"type": "rule", "strokeWidth": 1, "opacity": 0.55, "clip": true},
              "encoding": {
                "y": {"field": "l", "type": "quantitative", "title": null, "scale": {"domain": [9268, 12355]}, "axis": {"orient": "right", "values": [9400,9600,10000,10200,10400,10600,11000,11200,11400,11600,11800,12000,12200], "format": ",d", "ticks": false, "labelPadding": 11, "labelFontSize": 9.5, "labelColor": "#3a3d45", "grid": true, "gridColor": "#f3f3f4", "domain": true, "domainColor": "#f0f0f0"}},
                "y2": {"field": "h"},
                "color": {"condition": {"test": "datum.c>=datum.o", "value": "#1c9a82"}, "value": "#e0505f"}
              }
            },
            {
              "data": {"name": "bars"},
              "mark": {"type": "rule", "strokeWidth": 3, "clip": true},
              "encoding": {
                "y": {"field": "o", "type": "quantitative", "title": null, "scale": {"domain": [9268, 12355]}},
                "y2": {"field": "c"},
                "color": {"condition": {"test": "datum.c>=datum.o", "value": "#1c9a82"}, "value": "#e0505f"}
              }
            },
            {
              "data": {"values": [{"p": 10867}]},
              "mark": {"type": "rule", "color": "#e3e5e8", "strokeWidth": 1},
              "encoding": {"x": {"value": 0}, "x2": {"value": 1228}}
            },
            {
              "data": {"values": [{"i": 158}]},
              "mark": {"type": "rule", "color": "#a8abb2", "strokeWidth": 1, "strokeDash": [2, 3]},
              "encoding": {"y": {"value": 0}, "y2": {"value": 630}}
            },
            {
              "data": {"values": [{"p": 9268}]},
              "mark": {"type": "rule", "color": "#e3e5e8", "strokeWidth": 1},
              "encoding": {"x": {"value": 0}, "x2": {"value": 1280}}
            },
            {
              "data": {"name": "strokes"},
              "mark": {"type": "rule", "color": "#e30613", "strokeWidth": 4, "strokeCap": "round"},
              "encoding": {"x2": {"field": "i2"}, "y2": {"field": "p2"}}
            },
            {
              "data": {"name": "events"},
              "mark": {"type": "point", "filled": true, "fill": "#ffffff", "fillOpacity": 1, "stroke": "#7a52f0", "strokeWidth": 1.4, "size": 170, "shape": "circle"},
              "encoding": {}
            },
            {
              "data": {"name": "events"},
              "mark": {"type": "text", "color": "#6a3de8", "fontSize": 11, "fontWeight": "bold", "font": "DejaVu Sans"},
              "encoding": {"text": {"field": "s"}}
            },
            {
              "data": {"values": [{"i": 266.4, "p": 9338}]},
              "mark": {"type": "point", "filled": true, "color": "#e53935", "opacity": 1, "size": 16},
              "encoding": {}
            },
            {
              "data": {"values": [{"i": 309.3, "i2": 320, "p": 10895, "p2": 10782}]},
              "mark": {"type": "rect", "color": "#1a9a82", "cornerRadius": 1},
              "encoding": {"x2": {"field": "i2"}, "y2": {"field": "p2"}}
            },
            {
              "data": {"values": [{"i": 309.3, "i2": 318.8, "p": 9836, "p2": 9714}]},
              "mark": {"type": "rect", "color": "#2aa791", "cornerRadius": 1},
              "encoding": {"x2": {"field": "i2"}, "y2": {"field": "p2"}}
            },
            {
              "data": {"values": [
                {"i": 314.7, "p": 10867, "s": "10,867"},
                {"i": 314.7, "p": 10816, "s": "06:24:03"},
                {"i": 314.0, "p": 9807, "s": "11,72 M"},
                {"i": 314.0, "p": 9745, "s": "11,72 M"}
              ]},
              "mark": {"type": "text", "color": "#ffffff", "fontSize": 9.5, "font": "Roboto"},
              "encoding": {"text": {"field": "s"}}
            }
          ]
        }
      ],
      "resolve": {"scale": {"y": "independent"}}
    },
    {
      "width": 1228,
      "height": 170,
      "encoding": {
        "x": {"field": "i", "type": "quantitative", "title": null, "scale": {"domain": [-0.855, 308]}},
        "y": {"field": "d", "type": "quantitative", "title": null, "scale": {"domain": [-5.25, 9.15]}}
      },
      "layer": [
        {
          "data": {"name": "bars"},
          "mark": {"type": "rule", "strokeWidth": 3, "clip": true},
          "encoding": {
            "x": {"field": "i", "type": "quantitative", "title": null, "scale": {"domain": [-0.855, 308]}, "axis": {"values": [11,31,53.9,74.9,97,119.9,140,181,200,222,244,264.1,285.1,307.9], "labelExpr": "{'11':'Июн','31':'Июл','53.9':'Авг','74.9':'Сен','97':'Окт','119.9':'Ноя','140':'Дек','181':'Фев','200':'Мар','222':'Апр','244':'Май','264.1':'Июн','285.1':'Июл','307.9':'Ав'}[datum.value]", "ticks": false, "labelPadding": 11, "labelOverlap": false, "labelColor": "#3a3d45", "domain": false, "grid": true, "gridColor": "#f6f6f7", "labelFontSize": 9.5, "labelBound": false, "labelFlush": false}},
            "y": {"field": "d", "type": "quantitative", "title": null, "scale": {"domain": [-5.25, 9.15]}, "axis": {"orient": "right", "values": [-4, -2, 2, 4, 6], "labelExpr": "replace(format(datum.value,'.2f'),'.',',')", "ticks": false, "labelPadding": 11, "labelFontSize": 9.5, "labelColor": "#3a3d45", "grid": true, "gridColor": "#f6f6f7", "domain": true, "domainColor": "#f0f0f0"}},
            "y2": {"datum": 0},
            "color": {"condition": {"test": "datum.d>=0", "value": "#4caf50"}, "value": "#ef6f75"}
          }
        },
        {
          "data": {"name": "ma"},
          "mark": {"type": "line", "color": "#f7ea8e", "strokeWidth": 1, "interpolate": "monotone"},
          "encoding": {"y": {"field": "m", "type": "quantitative", "title": null, "scale": {"domain": [-5.25, 9.15]}}}
        },
        {
          "data": {"values": [{"i": 265, "i2": 309, "d": 0}]},
          "mark": {"type": "rule", "color": "#bcd0e6", "strokeWidth": 1.5},
          "encoding": {"x2": {"field": "i2"}}
        },
        {
          "data": {"values": [{"i": -0.855, "i2": 310, "d": 8.38}]},
          "mark": {"type": "rule", "color": "#b5b8be", "strokeWidth": 1, "strokeDash": [1, 3]},
          "encoding": {"x2": {"field": "i2"}}
        },
        {
          "data": {"values": [{"i": 158}]},
          "mark": {"type": "rule", "color": "#a8abb2", "strokeWidth": 1, "strokeDash": [2, 3]},
          "encoding": {"y": {"value": 0}, "y2": {"value": 175}}
        },
        {
          "data": {"name": "frames"},
          "mark": {"type": "rect", "fillOpacity": 0, "stroke": "#e30613", "strokeWidth": 4},
          "encoding": {"x2": {"field": "i2"}, "y2": {"field": "d2"}}
        },
        {
          "data": {"name": "arrows"},
          "mark": {"type": "rule", "color": "#e30613", "strokeWidth": 4, "strokeCap": "round"},
          "encoding": {"x2": {"field": "i2"}, "y2": {"field": "d2"}}
        },
        {
          "data": {"name": "arrows"},
          "transform": [{"filter": "datum.i<250"}],
          "mark": {"type": "point", "shape": "triangle-up", "filled": true, "color": "#e30613", "opacity": 1, "size": 300, "angle": 237},
          "encoding": {}
        },
        {
          "data": {"name": "arrows"},
          "transform": [{"filter": "datum.i>250"}],
          "mark": {"type": "point", "shape": "triangle-up", "filled": true, "color": "#e30613", "opacity": 1, "size": 300, "angle": 224},
          "encoding": {}
        },
        {
          "data": {"values": [{"i": 270.3, "d": 4.49, "s": "+3% за два дня"}]},
          "mark": {"type": "text", "align": "right", "color": "#d8404e", "fontSize": 13.5, "font": "Noto Sans"},
          "encoding": {"text": {"field": "s"}}
        },
        {
          "data": {"values": [{"i": 309.3, "i2": 315.8, "d": 3.45, "d2": 2.43}]},
          "mark": {"type": "rect", "color": "#4caf50"},
          "encoding": {"x2": {"field": "i2"}, "y2": {"field": "d2"}}
        },
        {
          "data": {"values": [{"i": 309.1, "i2": 317, "d": 0.35, "d2": -0.76}]},
          "mark": {"type": "rect", "color": "#ffeb3b"},
          "encoding": {"x2": {"field": "i2"}, "y2": {"field": "d2"}}
        },
        {
          "data": {"values": [
            {"i": 305.2, "i2": 309, "d": 9.0, "d2": 7.7},
            {"i": 309.3, "i2": 315.8, "d": 9.0, "d2": 7.7},
            {"i": 149.8, "i2": 165.9, "d": -5.76, "d2": -7.2}
          ]},
          "mark": {"type": "rect", "color": "#131722", "cornerRadius": 1},
          "encoding": {"x2": {"field": "i2"}, "y2": {"field": "d2"}}
        },
        {
          "data": {"values": [
            {"i": 312.6, "d": 2.94, "s": "2,98"},
            {"i": 312.6, "d": 8.38, "s": "8,38"},
            {"i": 158, "d": -6.5, "s": "чт 25 Дек '25"}
          ]},
          "mark": {"type": "text", "color": "#ffffff", "fontSize": 9.5, "font": "Roboto"},
          "encoding": {"text": {"field": "s"}}
        },
        {
          "data": {"values": [{"i": 313, "d": -0.22, "s": "−0,22"}]},
          "mark": {"type": "text", "color": "#3a3a20", "fontSize": 9.5, "font": "Roboto"},
          "encoding": {"text": {"field": "s"}}
        },
        {
          "data": {"values": [{"i": 307.1, "d": 8.38}]},
          "mark": {"type": "point", "shape": "circle", "fillOpacity": 0, "stroke": "#d0d3da", "strokeWidth": 1, "opacity": 1, "size": 60},
          "encoding": {}
        },
        {
          "data": {"values": [{"i": 307.1, "d": 8.38, "s": "+"}]},
          "mark": {"type": "text", "color": "#d0d3da", "fontSize": 9},
          "encoding": {"text": {"field": "s"}}
        },
        {
          "data": {"values": [{"i": 315.3, "d": -6.5}]},
          "mark": {"type": "point", "shape": "circle", "fillOpacity": 0, "stroke": "#6b6f78", "strokeWidth": 1.2, "opacity": 1, "size": 70},
          "encoding": {}
        },
        {
          "data": {"values": [{"i": 315.3, "d": -6.5}]},
          "mark": {"type": "point", "shape": "circle", "fillOpacity": 0, "stroke": "#6b6f78", "strokeWidth": 1, "opacity": 1, "size": 10},
          "encoding": {}
        }
      ]
    }
  ]
}
